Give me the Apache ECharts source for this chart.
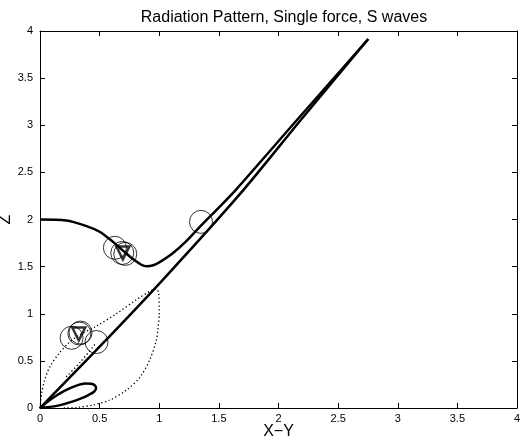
<!DOCTYPE html>
<html>
<head>
<meta charset="utf-8">
<script src="https://cdn.jsdelivr.net/npm/echarts@6/dist/echarts.min.js"></script>
<style>
  html, body { margin: 0; padding: 0; background: #fff; }
  #chart { width: 525px; height: 440px; }
</style>
</head>
<body>
<div id="chart"></div>
<script>
// curves (X-Y, Z)
var upperX = [0, 0.22, 0.39, 0.5, 0.61, 0.70, 0.78, 0.85, 0.893, 0.95, 1.0, 1.116, 1.227, 1.35, 1.506, 1.646, 2.151, 2.753]
var upperY = [2.0, 1.99, 1.93, 1.87, 1.765, 1.665, 1.58, 1.52, 1.505, 1.515, 1.545, 1.645, 1.77, 1.935, 2.135, 2.32, 3.05, 3.915]
var lowerX = [0, 0.5, 1.03, 1.674, 2.192, 2.753]
var lowerY = [0, 0.65, 1.36, 2.266, 3.064, 3.915]
var lobeX = [0, 0.1, 0.2, 0.3, 0.38, 0.43, 0.46, 0.47, 0.455, 0.41, 0.34, 0.25, 0.15, 0]
var lobeY = [0, 0.1, 0.18, 0.235, 0.26, 0.258, 0.24, 0.21, 0.175, 0.14, 0.1, 0.06, 0.025, 0]
var dotX = [0, 0.014, 0.04, 0.084, 0.16, 0.24, 0.31, 0.474, 0.64, 0.81, 0.93, 0.975, 0.995, 1.0, 0.99, 0.976, 0.92, 0.84, 0.725, 0.585, 0.446, 0.3, 0.2]
var dotY = [0, 0.156, 0.3, 0.44, 0.58, 0.69, 0.76, 0.87, 1.0, 1.15, 1.245, 1.265, 1.22, 1.0, 0.85, 0.72, 0.51, 0.33, 0.19, 0.085, 0.032, 0.005, 0]
var innerDotX = [0.22, 0.34, 0.47]
var innerDotY = [0.33, 0.49, 0.69]
var circleX = [0.628, 0.69, 0.715, 1.35, 0.265, 0.33, 0.34, 0.474]
var circleY = [1.70, 1.645, 1.635, 1.975, 0.745, 0.79, 0.80, 0.70]
var triX = [0.695, 0.325]
var triY = [1.645, 0.785]
var ticks = [0, 0.5, 1, 1.5, 2, 2.5, 3, 3.5, 4]

function pairs (xs, ys) {
  var out = []
  for (var i = 0; i < xs.length; i++) out.push([xs[i], ys[i]])
  return out
}

var font = 'Liberation Sans, Arial, Helvetica, sans-serif'
var chart = echarts.init(document.getElementById('chart'), null, { renderer: 'canvas' })

function axis (pos, showLabel, extra) {
  var a = {
    type: 'value',
    position: pos,
    min: ticks[0],
    max: ticks[ticks.length - 1],
    interval: 0.5,
    splitLine: { show: false },
    axisLine: { show: true, onZero: false, lineStyle: { color: '#000', width: 1 } },
    axisTick: { show: true, inside: true, length: 5, lineStyle: { color: '#000' } },
    axisLabel: { show: showLabel, color: '#000', fontSize: 11, fontFamily: font }
  }
  return Object.assign(a, extra || {})
}

chart.setOption({
  animation: false,
  backgroundColor: '#fff',
  title: {
    text: 'Radiation Pattern, Single force, S waves',
    left: 279,
    top: 5,
    textAlign: 'center',
    textStyle: { fontSize: 16, fontWeight: 'normal', color: '#000', fontFamily: font }
  },
  grid: { left: 40, right: 8, top: 31, bottom: 32, containLabel: false, outerBoundsMode: 'none' },
  xAxis: [
    axis('bottom', true, {
      name: 'X\u2212Y',
      nameLocation: 'middle',
      nameGap: 16,
      nameMoveOverlap: false,
      nameTextStyle: { fontSize: 16, color: '#000', fontFamily: font, verticalAlign: 'top' },
      axisLabel: { show: true, color: '#000', fontSize: 11, fontFamily: font, margin: 5 }
    }),
    axis('top', false)
  ],
  yAxis: [
    axis('left', true, {
      name: 'Z',
      nameLocation: 'middle',
      nameGap: 26,
      nameRotate: 90,
      nameMoveOverlap: false,
      nameTextStyle: { fontSize: 16, color: '#000', fontFamily: font },
      axisLabel: { show: true, color: '#000', fontSize: 11, fontFamily: font, margin: 7 }
    }),
    axis('right', false)
  ],
  series: [
    {
      type: 'line', data: pairs(dotX, dotY), smooth: 0.3, showSymbol: false, symbol: 'none',
      lineStyle: { color: '#000', width: 1.3, type: [1.3, 2.5] }
    },
    {
      type: 'line', data: pairs(innerDotX, innerDotY), smooth: 0.3, symbol: 'none',
      lineStyle: { color: '#000', width: 1.3, type: [1.3, 2.5] }
    },
    {
      type: 'line', data: pairs(upperX, upperY), smooth: 0.3, symbol: 'none',
      lineStyle: { color: '#000', width: 2.5 }
    },
    {
      type: 'line', data: pairs(lowerX, lowerY), smooth: 0.3, symbol: 'none',
      lineStyle: { color: '#000', width: 2.5 }
    },
    {
      type: 'line', data: pairs(lobeX, lobeY), smooth: 0.4, symbol: 'none',
      lineStyle: { color: '#000', width: 2.5 }
    },
    {
      type: 'scatter', data: pairs(circleX, circleY), symbol: 'circle', symbolSize: 23,
      itemStyle: { color: 'rgba(0,0,0,0)', borderColor: '#000', borderWidth: 1 }, z: 5
    },
    {
      type: 'scatter', data: pairs(triX, triY), symbol: 'triangle', symbolRotate: 180, symbolSize: 13,
      itemStyle: { color: 'rgba(0,0,0,0)', borderColor: '#000', borderWidth: 2.5 }, z: 6
    }
  ]
})
</script>
</body>
</html>
